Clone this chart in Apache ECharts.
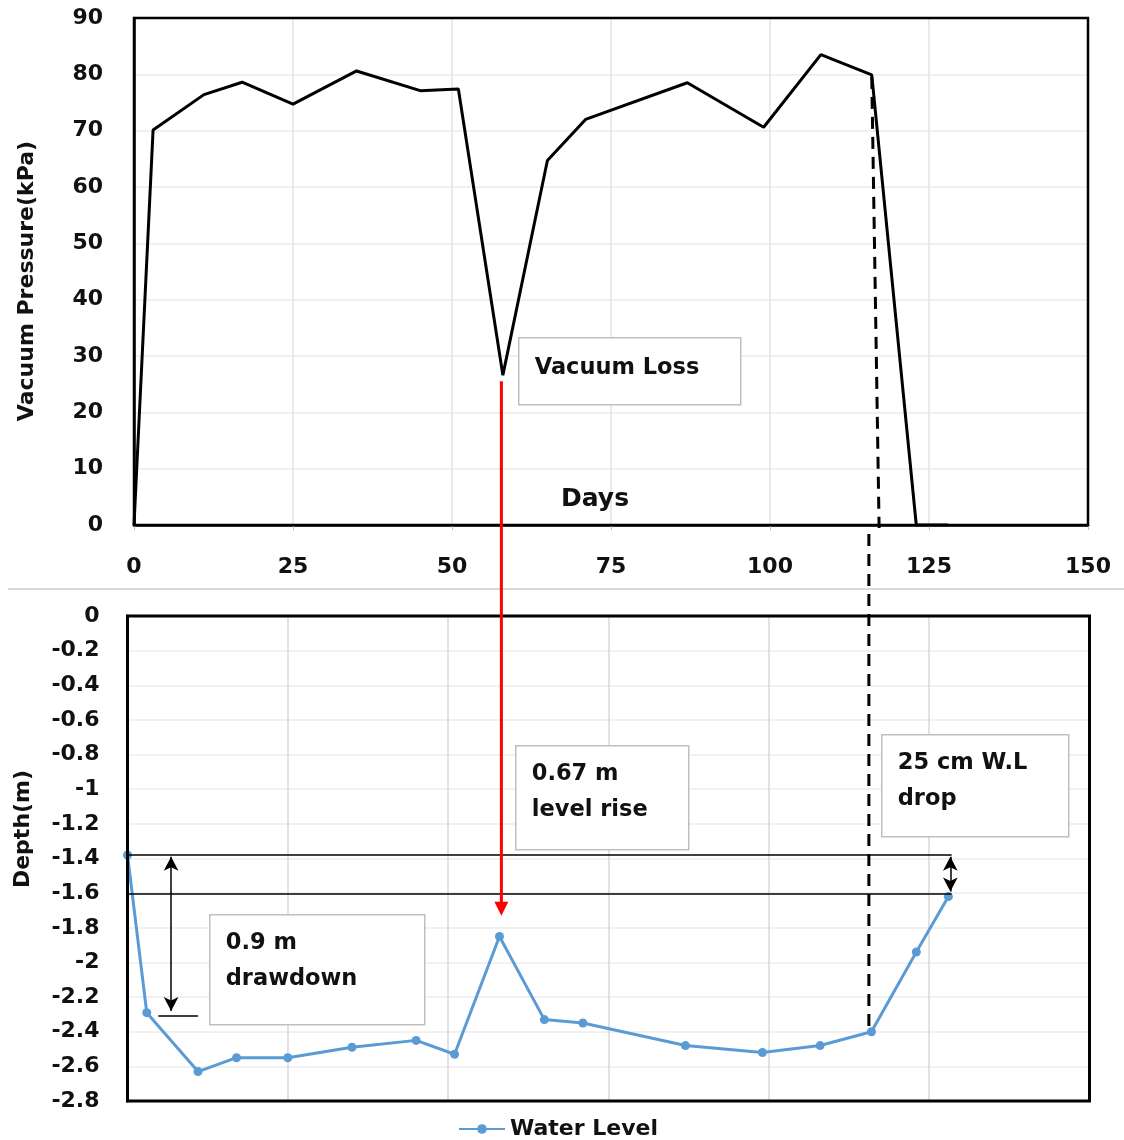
<!DOCTYPE html>
<html>
<head>
    <meta charset="utf-8">
    <title>Vacuum pressure and water level</title>
    <script src="https://cdn.jsdelivr.net/npm/echarts@6/dist/echarts.min.js"></script>
    <style>
        html, body { margin: 0; padding: 0; background: #fff; }
        #main { width: 1124px; height: 1140px; }
    </style>
</head>
<body>
<div id="main"></div>
<script>
    // days of reading (same for both panels)
    var days = [0, 3, 11, 17, 25, 35, 45, 51, 58, 65, 71, 87, 99, 108, 116, 123, 128];
    // vacuum pressure, kPa
    var vacuum = [0, 70.1, 76.4, 78.6, 74.7, 80.6, 77.1, 77.4, 26.6, 64.7, 72.0, 78.5, 70.6, 83.5, 79.9, 0, 0];
    // water level depth, m
    var waterLevel = [-1.38, -2.29, -2.63, -2.55, -2.55, -2.49, -2.45, -2.53, -1.85, -2.33, -2.35, -2.48, -2.52, -2.48, -2.40, -1.94, -1.62];

    var font = '"DejaVu Sans", sans-serif';

    var pressurePts = [], levelPts = [];
    for (var i = 0; i < days.length; i++) {
        pressurePts.push([days[i], vacuum[i]]);
        levelPts.push([days[i], waterLevel[i]]);
    }

    var myChart = echarts.init(document.getElementById('main'));
    var lbl = { color: '#111', fontFamily: font, fontWeight: 'bold', fontSize: 22 };

    var option = {
        animation: false,
        grid: [
            { left: 134, top: 18, width: 954, height: 507 },
            { left: 127.5, top: 616, width: 962, height: 485 }
        ],
        xAxis: [
            {
                type: 'value', gridIndex: 0, min: 0, max: 150, interval: 25,
                axisLine: { show: true, lineStyle: { color: '#000', width: 2.5 } },
                axisTick: { show: true, length: 5, lineStyle: { color: '#bfbfbf' } },
                axisLabel: Object.assign({ margin: 31 }, lbl),
                splitLine: { show: true, lineStyle: { color: '#e3e3e3', width: 1.5 } }
            },
            {
                type: 'value', gridIndex: 1, min: 0, max: 150, interval: 25,
                axisLine: { show: false }, axisTick: { show: false }, axisLabel: { show: false },
                splitLine: { show: true, lineStyle: { color: '#d9d9d9', width: 1.5 } }
            }
        ],
        yAxis: [
            {
                type: 'value', gridIndex: 0, min: 0, max: 90, interval: 10,
                axisLine: { show: true, lineStyle: { color: '#000', width: 2.5 } },
                axisTick: { show: false },
                axisLabel: Object.assign({ margin: 31 }, lbl),
                splitLine: { show: true, lineStyle: { color: '#ebebeb', width: 1.5 } }
            },
            {
                type: 'value', gridIndex: 1, min: -2.8, max: 0, interval: 0.2,
                axisLine: { show: true, lineStyle: { color: '#000', width: 3 } },
                axisTick: { show: false },
                axisLabel: Object.assign({ margin: 28 }, lbl),
                splitLine: { show: true, lineStyle: { color: '#ececec', width: 1.5 } }
            }
        ],
        legend: {
            data: ['Water Level'], left: 453, top: 1113, itemWidth: 46, itemHeight: 12, itemGap: 4,
            textStyle: { color: '#111', fontFamily: font, fontWeight: 'bold', fontSize: 22 }
        },
        series: [
            {
                name: 'Vacuum Pressure', type: 'line', xAxisIndex: 0, yAxisIndex: 0,
                data: pressurePts, showSymbol: false, symbol: 'none',
                lineStyle: { color: '#000', width: 3 }, itemStyle: { color: '#000' }
            },
            {
                name: 'Water Level', type: 'line', xAxisIndex: 1, yAxisIndex: 1,
                data: levelPts, symbol: 'circle', symbolSize: 9,
                lineStyle: { color: '#5b9bd5', width: 3 }, itemStyle: { color: '#5b9bd5' },
                markLine: {
                    silent: true, symbol: 'none', label: { show: false },
                    lineStyle: { color: '#000', width: 1.5, type: 'solid' },
                    data: [
                        [{ coord: [0, -1.38] }, { coord: [128.5, -1.38] }],
                        [{ coord: [0, -1.605] }, { coord: [128.5, -1.605] }],
                        [{ coord: [4.8, -2.31] }, { coord: [11, -2.31] }],
                        [{ coord: [6.8, -1.39], symbol: 'arrow' }, { coord: [6.8, -2.28], symbol: 'arrow' }],
                        [{ coord: [128.3, -1.39], symbol: 'arrow' }, { coord: [128.3, -1.59], symbol: 'arrow' }]
                    ],
                    symbolSize: [11, 14]
                }
            }
        ]
    };
    myChart.setOption(option);

    // frames and annotations, placed through the axes
    var t0 = myChart.convertToPixel({ gridIndex: 0 }, [0, 90]);
    var t1 = myChart.convertToPixel({ gridIndex: 0 }, [150, 0]);
    var b0 = myChart.convertToPixel({ gridIndex: 1 }, [0, 0]);
    var b1 = myChart.convertToPixel({ gridIndex: 1 }, [150, -2.8]);
    var a0 = myChart.convertToPixel({ gridIndex: 0 }, [58, 25.5]);
    var a1 = myChart.convertToPixel({ gridIndex: 1 }, [58, -1.73]);
    var d0 = myChart.convertToPixel({ gridIndex: 0 }, [116, 79.9]);
    var d1 = myChart.convertToPixel({ gridIndex: 0 }, [117, 0]);
    var d2 = myChart.convertToPixel({ gridIndex: 1 }, [115.6, -2.40]);
    var ax = a0[0] - 1.5;

    function box(x, y, w, h, txt, dy) {
        return {
            type: 'group', left: x, top: y, z: 20,
            children: [
                { type: 'rect', shape: { x: 0, y: 0, width: w, height: h },
                  style: { fill: '#fff', stroke: '#bfbfbf', lineWidth: 1.5 } },
                { type: 'text', x: 16, y: dy,
                  style: { text: txt, fill: '#111', font: 'bold 22.5px ' + font, lineHeight: 36 } }
            ]
        };
    }

    myChart.setOption({
        graphic: [
            { type: 'line', shape: { x1: 8, y1: 589, x2: 1124, y2: 589 }, style: { stroke: '#d9d9d9', lineWidth: 2 } },
            { type: 'rect', z: 15, shape: { x: t0[0], y: t0[1], width: t1[0] - t0[0], height: t1[1] - t0[1] },
              style: { fill: null, stroke: '#000', lineWidth: 2.5 } },
            { type: 'rect', z: 15, shape: { x: b0[0], y: b0[1], width: b1[0] - b0[0], height: b1[1] - b0[1] },
              style: { fill: null, stroke: '#000', lineWidth: 3 } },
            { type: 'line', z: 16, shape: { x1: ax, y1: a0[1], x2: ax, y2: a1[1] - 12 }, style: { stroke: '#ff0000', lineWidth: 3 } },
            { type: 'polygon', z: 16, shape: { points: [[ax - 7, a1[1] - 14], [ax + 7, a1[1] - 14], [ax, a1[1]]] }, style: { fill: '#ff0000' } },
            { type: 'polyline', z: 16, shape: { points: [[d0[0], d0[1] + 2], [d1[0] + 1, d1[1] + 3]] },
              style: { stroke: '#000', lineWidth: 3, lineDash: [12, 8] } },
            { type: 'line', z: 16, shape: { x1: d2[0], y1: 534, x2: d2[0], y2: d2[1] }, style: { stroke: '#000', lineWidth: 3, lineDash: [12, 8] } },
            { type: 'text', left: 561, top: 487, style: { text: 'Days', fill: '#111', font: 'bold 25px ' + font } },
            { type: 'text', x: 27, y: 281, rotation: Math.PI / 2,
              style: { text: 'Vacuum Pressure(kPa)', fill: '#111', font: 'bold 22px ' + font, align: 'center', verticalAlign: 'middle' } },
            { type: 'text', x: 23, y: 829, rotation: Math.PI / 2,
              style: { text: 'Depth(m)', fill: '#111', font: 'bold 22px ' + font, align: 'center', verticalAlign: 'middle' } },
            box(518, 337, 222, 67, 'Vacuum Loss', 12),
            box(515, 745, 173, 104, '0.67 m\nlevel rise', 10),
            box(881, 734, 187, 102, '25 cm W.L\ndrop', 10),
            box(209, 914, 215, 110, '0.9 m\ndrawdown', 10)
        ]
    });
</script>
</body>
</html>
